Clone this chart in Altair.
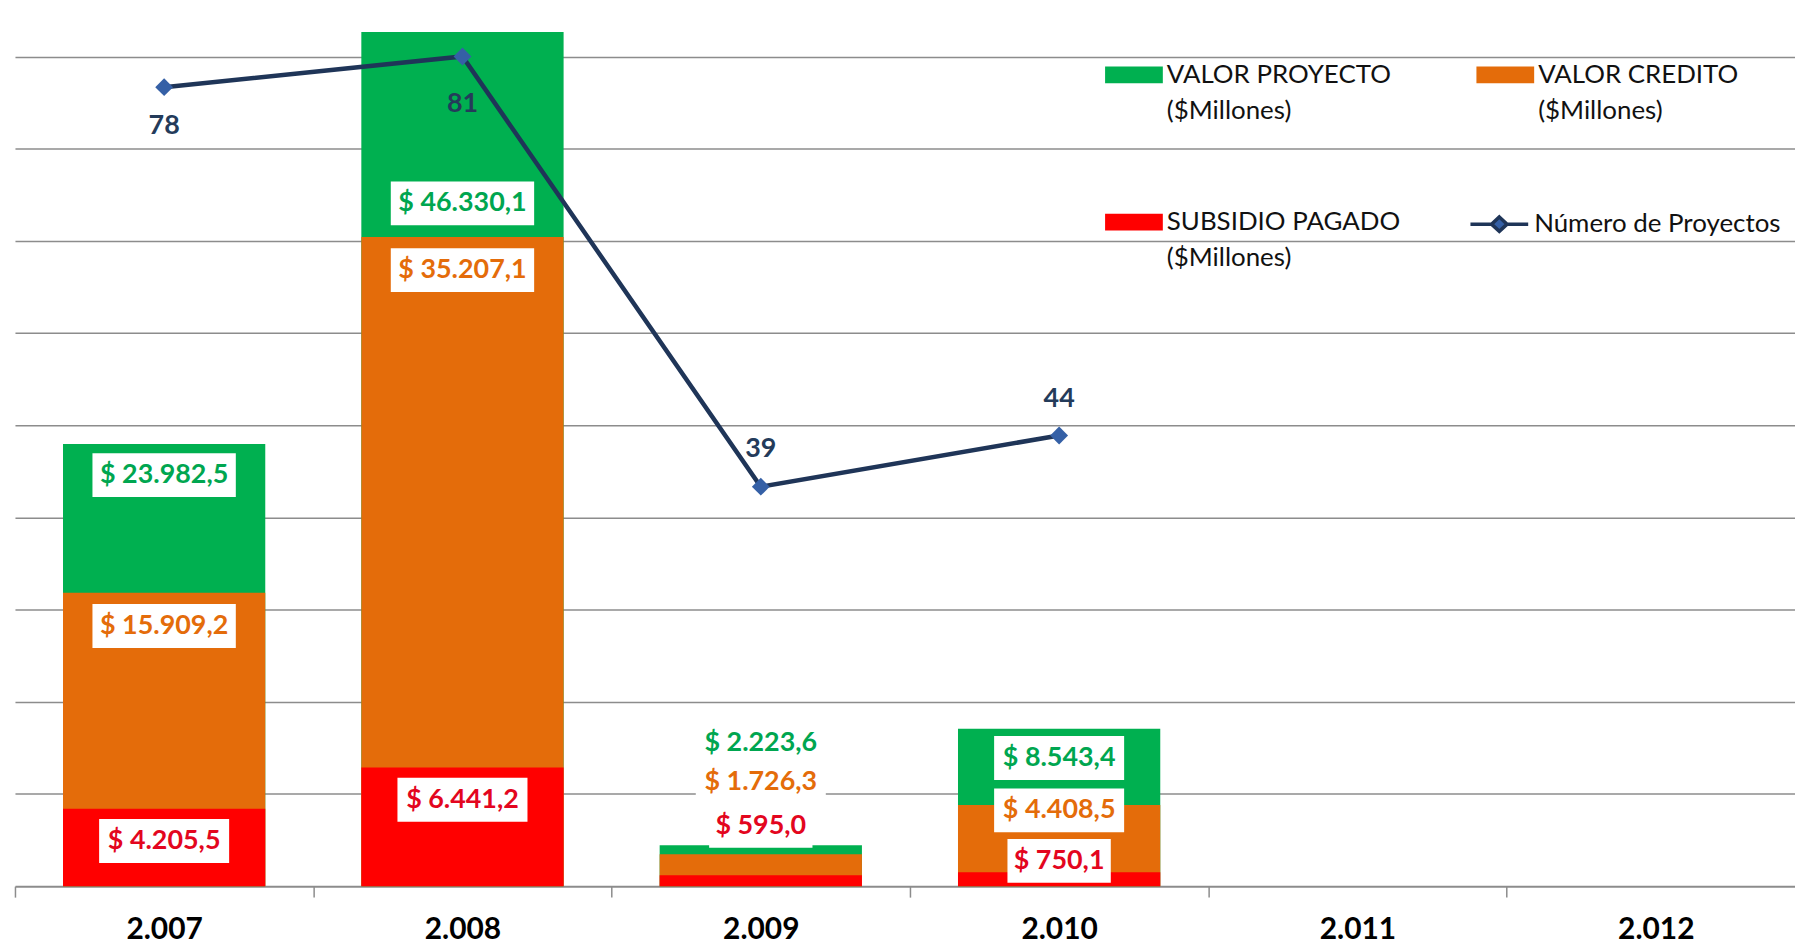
import altair as alt
import pandas as pd

# ---------------- data ----------------
years = ["2.007", "2.008", "2.009", "2.010", "2.011", "2.012"]
bar_years = ["2.007", "2.008", "2.009", "2.010"]
valor_proyecto = [23982.5, 46330.1, 2223.6, 8543.4]
valor_credito = [15909.2, 35207.1, 1726.3, 4408.5]
subsidio_pagado = [4205.5, 6441.2, 595.0, 750.1]
num_proyectos = [78, 81, 39, 44]
series_names = ["VALOR PROYECTO\n($Millones)", "VALOR CREDITO\n($Millones)",
                "SUBSIDIO PAGADO\n($Millones)"]
line_name = "Número de Proyectos"

# ---------------- styles ----------------
bar_colors = ["#00B050", "#E46C0A", "#FF0000"]
text_colors = ["#00A650", "#E46C0A", "#E3061E"]
line_color = "#1F3558"
marker_color = "#3560A6"
grid_color = "#8C8C8C"
FONT = "Lato"
# label nudges (px below the top of each bar), per series then per year
label_nudge = [[31.2, 172.2, -102.5, 29.5], [33.3, 33.2, -72.5, 5.5], [32.5, 32.5, -49.5, -11.5]]
line_label_nudge = [39, 48, -38, -37]

PAD_L, PAD_B = 7, 60
W, H = 1788, 880
X_RANGE = 1798  # band layout runs slightly past the visible right edge (cropped)
PX_PER_UNIT = 92.6 / 5000.0
Y_MAX = H / PX_PER_UNIT
Y2_MAX = Y_MAX * 90 / 50000.0
PX_PER_PROJ = H / Y2_MAX


def fmt(v):
    s = f"{v:,.1f}"
    return "$ " + s.replace(",", "X").replace(".", ",").replace("X", ".")


all_vals = [valor_proyecto, valor_credito, subsidio_pagado]
bar_rows, lab_rows = [], []
for si, (name, vals) in enumerate(zip(series_names, all_vals)):
    for yi, (yr, v) in enumerate(zip(bar_years, vals)):
        bar_rows.append({"year": yr, "series": name, "value": v, "ord": si})
        txt = fmt(v)
        bw = 13.4 * len(txt) + 10
        bh = 44
        r = bh / bw
        lab_rows.append({
            "year": yr, "text": txt,
            "ypos": v - label_nudge[si][yi] / PX_PER_UNIT,
            "tcolor": text_colors[si],
            "bshape": f"M-1,{-r:.4f}H1V{r:.4f}H-1Z",
            "bsize": bw * bw,
        })
bars_df = pd.DataFrame(bar_rows)
labels_df = pd.DataFrame(lab_rows)
line_df = pd.DataFrame({
    "year": bar_years, "proj": num_proyectos, "name": [line_name] * 4,
    "lpos": [p - n / PX_PER_PROJ for p, n in zip(num_proyectos, line_label_nudge)],
    "ltext": [str(p) for p in num_proyectos],
})

x_scale = alt.Scale(domain=years, range=[0, X_RANGE], paddingInner=0, paddingOuter=0)
x_axis = alt.Axis(title=None, labelAngle=0, labelFont=FONT, labelFontSize=30,
                  labelFontWeight="bold", labelColor="#000000", labelPadding=18,
                  tickBand="extent", tickSize=11, tickColor=grid_color, tickWidth=1.5,
                  domainColor=grid_color, domainWidth=2, grid=False)
y_scale = alt.Scale(domain=[0, Y_MAX], nice=False, zero=True)
y_axis = alt.Axis(title=None, labels=False, ticks=False, domain=False, grid=True,
                  gridColor=grid_color, gridWidth=1.5,
                  values=list(range(5000, 50000, 5000)))

X = alt.X("year:N", scale=x_scale, axis=x_axis)

bars = alt.Chart(bars_df).mark_bar(opacity=1, width=alt.RelativeBandSize(0.678)).encode(
    x=X,
    y=alt.Y("value:Q", stack=None, scale=y_scale, axis=y_axis),
    color=alt.Color("series:N", scale=alt.Scale(domain=series_names, range=bar_colors),
                    legend=alt.Legend(
                        title=None, orient="none", direction="horizontal",
                        legendX=1095, legendY=36, columns=2,
                        columnPadding=76, rowPadding=70, padding=0,
                        symbolType="M-1,-0.29H1V0.29H-1Z", symbolSize=3364,
                        symbolStrokeWidth=0, symbolOpacity=1, labelOffset=4,
                        labelFont=FONT, labelFontSize=26, labelColor="#111111",
                        labelLimit=500, labelBaseline="middle",
                        labelExpr="split(datum.label, '\\n')")),
    order=alt.Order("ord:Q"),
)

boxes = alt.Chart(labels_df).mark_point(filled=True, fill="white", opacity=1,
                                        strokeWidth=0).encode(
    x=X,
    y=alt.Y("ypos:Q"),
    shape=alt.Shape("bshape:N", scale=None),
    size=alt.Size("bsize:Q", scale=None),
)

texts = alt.Chart(labels_df).mark_text(font=FONT, fontSize=27, fontWeight="bold",
                                       baseline="middle", align="center").encode(
    x=X,
    y=alt.Y("ypos:Q"),
    text="text:N",
    fill=alt.Fill("tcolor:N", scale=None),
)

y2_scale = alt.Scale(domain=[0, Y2_MAX], nice=False, zero=True)

line = alt.Chart(line_df).mark_line(strokeWidth=4.5).encode(
    x=X,
    y=alt.Y("proj:Q", scale=y2_scale, axis=None),
    color=alt.Color("name:N", scale=alt.Scale(domain=[line_name], range=[line_color]),
                    legend=alt.Legend(
                        title=None, orient="none", legendX=1460, legendY=184, padding=0,
                        symbolType="M-1,0H-0.27M0.27,0H1M0,-0.25L0.27,0L0,0.25L-0.27,0Z",
                        symbolSize=3364, symbolStrokeWidth=3.5,
                        symbolStrokeColor=line_color, symbolFillColor=marker_color,
                        labelOffset=4, labelFont=FONT, labelFontSize=26,
                        labelColor="#111111", labelLimit=500, labelBaseline="middle")),
)

points = alt.Chart(line_df).mark_point(shape="diamond", filled=True, size=320,
                                       color=marker_color, opacity=1).encode(
    x=X,
    y=alt.Y("proj:Q"),
)

line_labels = alt.Chart(line_df).mark_text(font=FONT, fontSize=27, fontWeight="bold",
                                           baseline="middle", align="center",
                                           color="#243B5A").encode(
    x=X,
    y=alt.Y("lpos:Q"),
    text="ltext:N",
)

primary = alt.layer(bars, boxes, texts)
secondary = alt.layer(line, points, line_labels)

chart = alt.layer(primary, secondary).resolve_scale(
    y="independent", color="independent"
).properties(
    width=W, height=H,
    padding={"left": PAD_L, "top": 0, "right": 0, "bottom": PAD_B},
    autosize=alt.AutoSizeParams(type="none"),
    background="white",
).configure(
    style={"guide-label": {"lineHeight": 36}},
    view=alt.ViewConfig(stroke=None),
)

chart.save("out.html", embed_options={"renderer": "svg", "actions": False})
